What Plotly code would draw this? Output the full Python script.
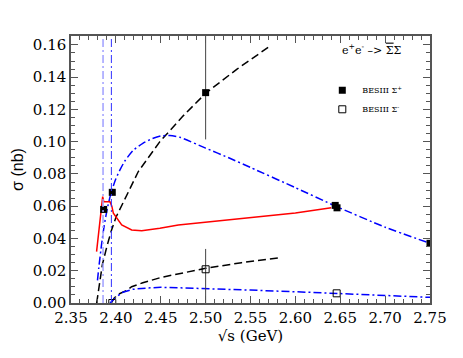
import plotly.graph_objects as go

# ---- data ----
sp_x = [2.3864, 2.396, 2.5, 2.6444, 2.6464, 2.75]
sp_y = [0.058, 0.0686, 0.1304, 0.0605, 0.0590, 0.037]
sp_eplus = [0.0, 0.0, 0.040, 0.0, 0.0, 0.0]
sp_eminus = [0.0, 0.0, 0.029, 0.0, 0.0, 0.0]

sm_x = [2.396, 2.5, 2.646]
sm_y = [0.0, 0.0209, 0.006]
sm_eplus = [0.0, 0.0126, 0.0]
sm_eminus = [0.0, 0.021, 0.0]

dash_up_x = [2.3786, 2.381, 2.385, 2.390, 2.395, 2.400, 2.410, 2.425, 2.449, 2.475, 2.500, 2.535, 2.5698]
dash_up_y = [0.0, 0.010, 0.024, 0.035, 0.045, 0.053, 0.064, 0.0815, 0.100, 0.116, 0.130, 0.145, 0.1585]

dash_lo_x = [2.3949, 2.398, 2.403, 2.412, 2.4176, 2.43, 2.45, 2.4714, 2.5, 2.54, 2.584]
dash_lo_y = [0.0, 0.003, 0.0055, 0.0078, 0.0101, 0.0125, 0.0158, 0.0184, 0.0215, 0.025, 0.0281]

dd_up_x = [2.3795, 2.381, 2.384, 2.387, 2.391, 2.395, 2.400, 2.405, 2.410, 2.419, 2.430, 2.440, 2.450,
           2.460, 2.4714, 2.500, 2.527, 2.550, 2.600, 2.645, 2.700, 2.750]
dd_up_y = [0.014, 0.022, 0.036, 0.048, 0.060, 0.069, 0.077, 0.083, 0.088, 0.0945, 0.099, 0.1018, 0.1035,
           0.1038, 0.1027, 0.096, 0.0897, 0.084, 0.0715, 0.060, 0.047, 0.037]

dd_lo_x = [2.3935, 2.398, 2.4065, 2.419, 2.435, 2.45, 2.4714, 2.5, 2.55, 2.6163, 2.645, 2.7, 2.75]
dd_lo_y = [0.0, 0.0025, 0.0064, 0.0085, 0.0093, 0.0097, 0.0094, 0.0090, 0.0080, 0.0066, 0.0060, 0.0047, 0.0035]

red_x = [2.3785, 2.381, 2.3835, 2.3853, 2.3865, 2.3934, 2.3955, 2.3972, 2.4065, 2.4176, 2.4288,
         2.449, 2.4696, 2.5, 2.55, 2.6, 2.64]
red_y = [0.0318, 0.045, 0.058, 0.0659, 0.0628, 0.0628, 0.0600, 0.0556, 0.0484, 0.0453, 0.0448,
         0.0463, 0.0484, 0.0502, 0.0530, 0.0558, 0.0590]

thresholds = [2.3857, 2.395]
x_ticks = [2.35, 2.40, 2.45, 2.50, 2.55, 2.60, 2.65, 2.70, 2.75]
y_ticks = [0.00, 0.02, 0.04, 0.06, 0.08, 0.10, 0.12, 0.14, 0.16]

SERIF = "DejaVu Serif"
SANS = "Liberation Sans"
DASH = "8px,4px"
DASHDOT = "8px,3px,2px,3px"

fig = go.Figure()

fig.add_trace(go.Scatter(x=dash_up_x, y=dash_up_y, mode="lines", showlegend=False,
                         line=dict(color="black", width=1.5, dash=DASH)))
fig.add_trace(go.Scatter(x=dash_lo_x, y=dash_lo_y, mode="lines", showlegend=False,
                         line=dict(color="black", width=1.5, dash=DASH)))
fig.add_trace(go.Scatter(x=dd_up_x, y=dd_up_y, mode="lines", showlegend=False,
                         line=dict(color="#0000ff", width=1.5, dash=DASHDOT, shape="spline", smoothing=0.6)))
fig.add_trace(go.Scatter(x=dd_lo_x, y=dd_lo_y, mode="lines", showlegend=False,
                         line=dict(color="#0000ff", width=1.5, dash=DASHDOT)))
fig.add_trace(go.Scatter(x=red_x, y=red_y, mode="lines", showlegend=False,
                         line=dict(color="#ff0000", width=1.5)))

fig.add_vline(x=thresholds[0], line=dict(color="#a0a0ff", width=1.5, dash=DASHDOT))
fig.add_vline(x=thresholds[1], line=dict(color="#3030ff", width=1, dash=DASHDOT))

fig.add_trace(go.Scatter(
    x=sp_x, y=sp_y, mode="markers", name="BESIII Σ<sup>+</sup>",
    marker=dict(symbol="square", size=7, color="black"),
    error_y=dict(type="data", symmetric=False, array=sp_eplus, arrayminus=sp_eminus,
                 color="#444", thickness=1, width=0)))
fig.add_trace(go.Scatter(
    x=sm_x, y=sm_y, mode="markers", name="BESIII Σ<sup>-</sup>",
    marker=dict(symbol="square-open", size=7, color="black", line=dict(width=1)),
    error_y=dict(type="data", symmetric=False, array=sm_eplus, arrayminus=sm_eminus,
                 color="#444", thickness=1, width=0)))

axis_common = dict(
    showline=True, linecolor="#555", linewidth=1.5, mirror="allticks",
    ticks="inside", ticklen=7, tickwidth=1, tickcolor="#555",
    showgrid=False, zeroline=False,
)

fig.update_xaxes(range=[2.35, 2.75], tickvals=x_ticks, ticktext=[f"{v:.2f}" for v in x_ticks],
                 tickfont=dict(family=SERIF, size=15, color="black"),
                 minor=dict(dtick=0.01, ticks="inside", ticklen=4, tickcolor="#555"),
                 title=dict(text="√s (GeV)", font=dict(family=SERIF, size=15, color="black"), standoff=3),
                 **axis_common)
fig.update_yaxes(range=[0, 0.1655], tickvals=y_ticks, ticktext=[f"{v:.2f}" for v in y_ticks],
                 tickfont=dict(family=SERIF, size=15, color="black"),
                 minor=dict(dtick=0.005, ticks="inside", ticklen=4, tickcolor="#555"),
                 title=dict(text="σ (nb)", font=dict(family=SANS, size=16, color="black"), standoff=5),
                 **axis_common)

fig.add_annotation(xref="paper", yref="paper", x=0.749, y=0.949, xanchor="left", yanchor="middle",
                   text="e<sup>+</sup>e<sup>-</sup> –> <span style='text-decoration:overline'>Σ</span>Σ",
                   showarrow=False, font=dict(family=SERIF, size=11, color="black"))

# figure is placed with the page's default 8px body margin, so size/margins compensate
fig.update_layout(
    template="none",
    font=dict(family=SERIF, size=12, color="black"),
    width=455, height=350,
    margin=dict(l=63, r=33, t=28, b=55),
    plot_bgcolor="white", paper_bgcolor="white",
    legend=dict(x=0.70, y=0.851, xanchor="left", yanchor="top", bgcolor="rgba(0,0,0,0)",
                font=dict(family=SERIF, size=8, color="black"), itemwidth=30,
                tracegroupgap=0),
)

fig.write_html("out.html")
